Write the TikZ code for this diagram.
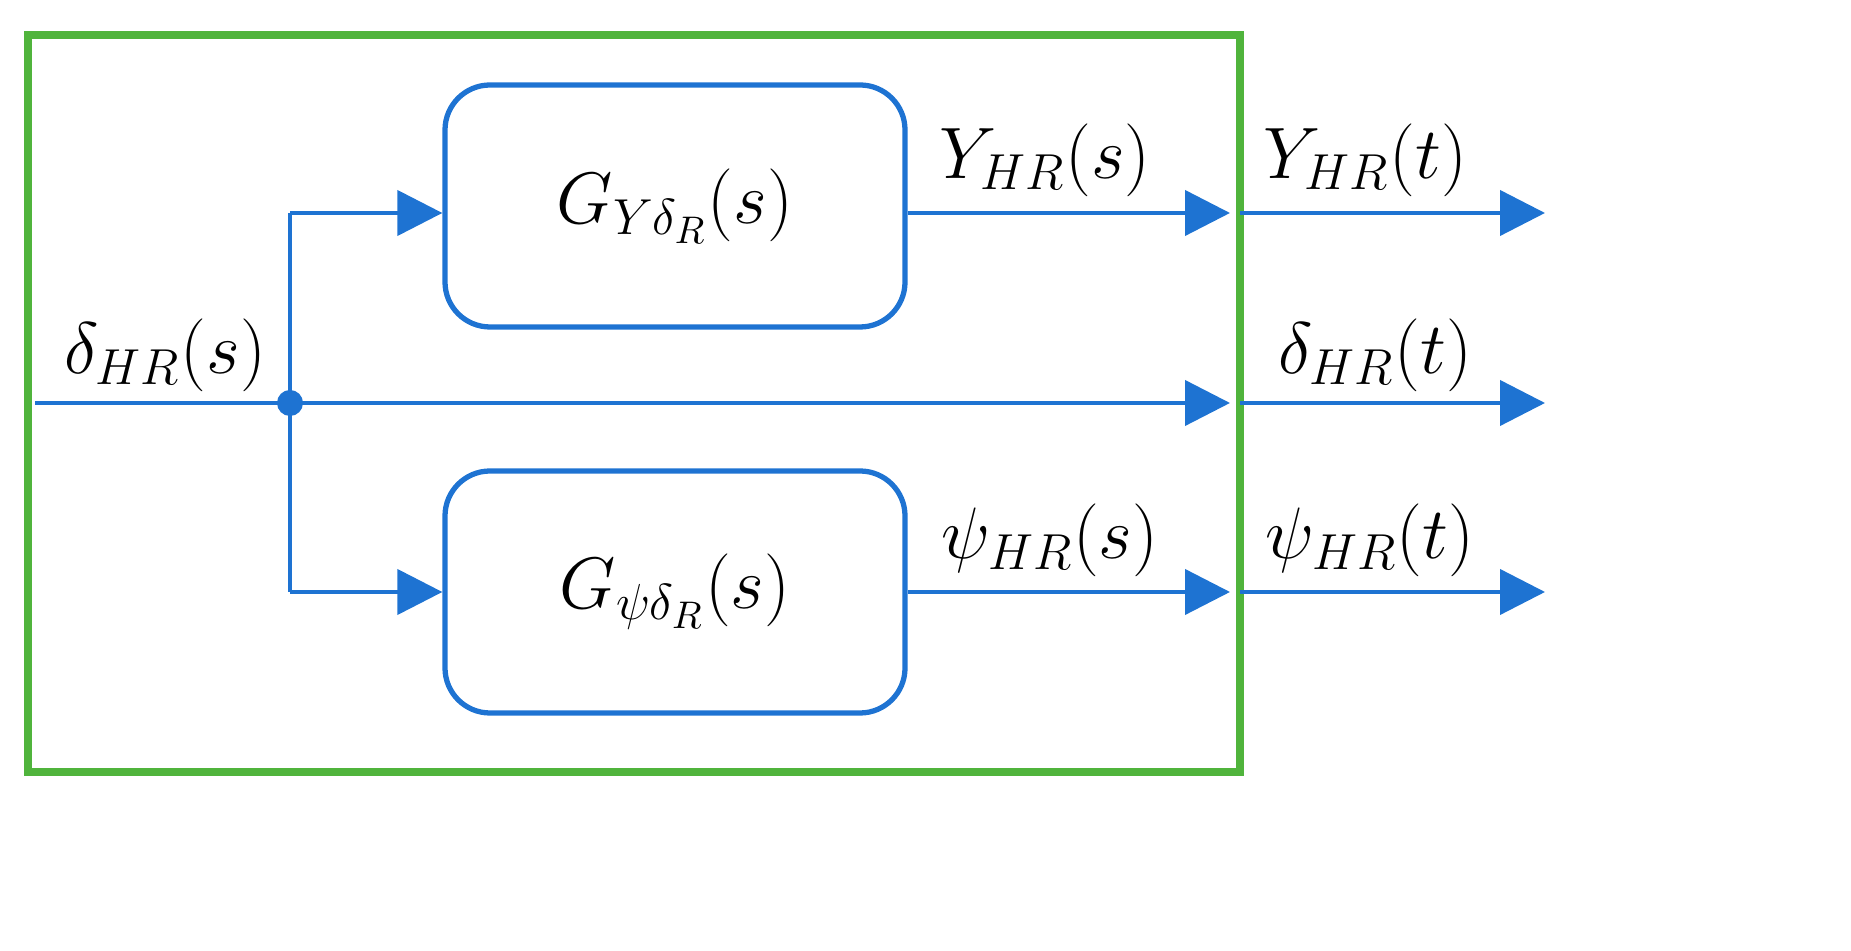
\documentclass[tikz,border=0pt]{standalone}
\usetikzlibrary{arrows.meta, positioning}
\definecolor{lineblue}{RGB}{30,115,210}
\definecolor{framegreen}{RGB}{80,180,60}
\tikzset{
  blk/.style={draw=lineblue, line width=1.5pt, rounded corners=0.45cm, minimum width=4.6cm, minimum height=2.42cm},
  sig/.style={draw=lineblue, line width=1.2pt, -{Triangle[length=0.45cm,width=0.45cm]}},
  wire/.style={draw=lineblue, line width=1.2pt},
  lbl/.style={font=\fontsize{21}{25}\selectfont}
}
\begin{document}
\begin{tikzpicture}
\useasboundingbox (0,0) rectangle (18.51,9.5);
\draw[framegreen, line width=2.4pt] (0.28,1.78) rectangle (12.40,9.15);

\node[blk] (gy) at (6.75,7.44) {};
\node[blk] (gpsi) at (6.75,3.58) {};
\node[lbl] at (gy.center) {$G_{Y\delta_R}(s)$};
\node[lbl] at (gpsi.center) {$G_{\psi\delta_R}(s)$};

\coordinate (in) at (0.35,5.47);
\fill[lineblue] (2.90,5.47) circle (0.13) coordinate (split);
\coordinate (up) at (2.90,7.37);
\coordinate (dn) at (2.90,3.58);

\coordinate (ey) at (12.30,7.37);
\coordinate (ed) at (12.30,5.47);
\coordinate (ep) at (12.30,3.58);
\coordinate (sy) at (12.40,7.37);
\coordinate (sd) at (12.40,5.47);
\coordinate (sp) at (12.40,3.58);
\coordinate (oy) at (15.45,7.37);
\coordinate (od) at (15.45,5.47);
\coordinate (op) at (15.45,3.58);

% input and branches
\draw[wire] (in) -- (split);
\draw[wire] (up) -- (dn);
\draw[sig] (up) -- (gy.west |- up);
\draw[sig] (dn) -- (gpsi.west);
\draw[sig] (split) -- (ed);
\draw[sig] (gy.east |- ey) -- (ey);
\draw[sig] (gpsi.east) -- (ep);

% outputs
\draw[sig] (sy) -- (oy);
\draw[sig] (sd) -- (od);
\draw[sig] (sp) -- (op);

\node[lbl] at (1.65,5.95) {$\delta_{HR}(s)$};
\node[lbl] at (10.45,7.90) {$Y_{HR}(s)$};
\node[lbl] at (13.65,7.90) {$Y_{HR}(t)$};
\node[lbl] at (13.75,5.95) {$\delta_{HR}(t)$};
\node[lbl] at (10.50,4.10) {$\psi_{HR}(s)$};
\node[lbl] at (13.70,4.10) {$\psi_{HR}(t)$};
\end{tikzpicture}
\end{document}
